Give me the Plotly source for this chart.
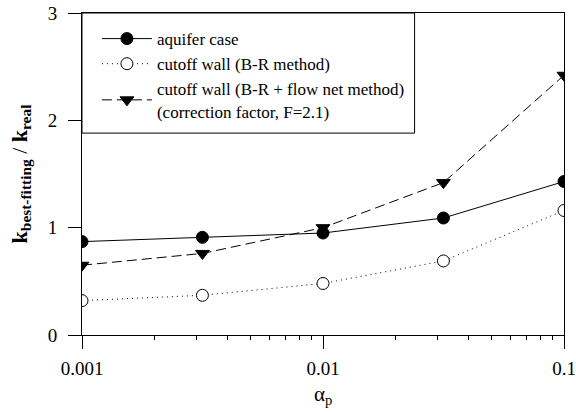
import plotly.graph_objects as go

alpha_p = [0.001, 0.00316, 0.01, 0.0316, 0.1]
aquifer = [0.87, 0.91, 0.95, 1.09, 1.43]
cutoff_br = [0.32, 0.37, 0.48, 0.69, 1.16]
cutoff_br_fn = [0.65, 0.76, 1.00, 1.42, 2.42]

names = [
    "aquifer case",
    "cutoff wall (B-R method)",
    "cutoff wall (B-R + flow net method)<br>(correction factor, F=2.1)",
]
x_ticks = [0.001, 0.01, 0.1]
x_ticktext = ["0.001", "0.01", "0.1"]
x_minor = [m * 10.0 ** e for e in (-3, -2) for m in range(2, 10)]
y_ticks = [0, 1, 2, 3]
x_title = "α<sub>p</sub>"
y_title = "<b>k<sub>best-fitting</sub></b> / <b>k<sub>real</sub></b>"

FONT = "Liberation Serif"

fig = go.Figure()
fig.add_trace(go.Scatter(
    x=alpha_p, y=aquifer, mode="lines+markers", name=names[0],
    line=dict(color="black", width=1),
    marker=dict(symbol="circle", size=12, color="black", line=dict(color="black", width=1)),
))
fig.add_trace(go.Scatter(
    x=alpha_p, y=cutoff_br, mode="lines+markers", name=names[1],
    line=dict(color="black", width=1, dash="1px,4px"),
    marker=dict(symbol="circle", size=12, color="white", line=dict(color="black", width=1)),
))
fig.add_trace(go.Scatter(
    x=alpha_p, y=cutoff_br_fn, mode="lines+markers", name=names[2],
    line=dict(color="black", width=1, dash="10px,5px"),
    marker=dict(symbol="triangle-down", size=12, color="black", line=dict(color="black", width=1)),
))

# legend frame
fig.add_shape(type="rect", xref="paper", yref="paper",
              x0=0, x1=0.69, y0=0.627, y1=1,
              line=dict(color="black", width=1), fillcolor="white", layer="below")

# x-axis title
fig.add_annotation(text=x_title, xref="paper", yref="paper", x=0.5, y=0,
                   xanchor="center", yanchor="top", yshift=-45, showarrow=False,
                   font=dict(family=FONT, size=21, color="black"))

fig.update_layout(
    template="none",
    width=576, height=412,
    margin=dict(l=82, r=12, t=13, b=77, autoexpand=False),
    paper_bgcolor="white", plot_bgcolor="white",
    font=dict(family=FONT, size=17, color="black"),
    showlegend=True,
    legend=dict(
        x=0.031, y=0.975, xanchor="left", yanchor="top",
        borderwidth=0, bgcolor="rgba(0,0,0,0)",
        font=dict(family=FONT, size=17, color="black"),
        tracegroupgap=0, itemwidth=50,
    ),
)
fig.update_xaxes(
    type="log", range=[-3, -1], automargin=False,
    tickvals=x_ticks, ticktext=x_ticktext,
    ticks="outside", ticklen=13, tickcolor="black", tickwidth=1,
    minor=dict(tickvals=x_minor, ticks="outside", ticklen=4, tickcolor="black",
               tickwidth=1, showgrid=False),
    showline=True, linecolor="black", linewidth=1, mirror=True,
    showgrid=False, zeroline=False,
    tickfont=dict(family=FONT, size=19), ticklabelstandoff=3,
)
fig.update_yaxes(
    range=[0, 3], automargin=False, tickvals=y_ticks,
    ticks="outside", ticklen=13, tickcolor="black", tickwidth=1,
    showline=True, linecolor="black", linewidth=1, mirror=True,
    showgrid=False, zeroline=False,
    tickfont=dict(family=FONT, size=19), ticklabelstandoff=7,
    title=dict(text=y_title, font=dict(family=FONT, size=22), standoff=14),
)

fig.write_html("out.html", config={"displayModeBar": False},
               post_script="document.body.style.margin='0';")
